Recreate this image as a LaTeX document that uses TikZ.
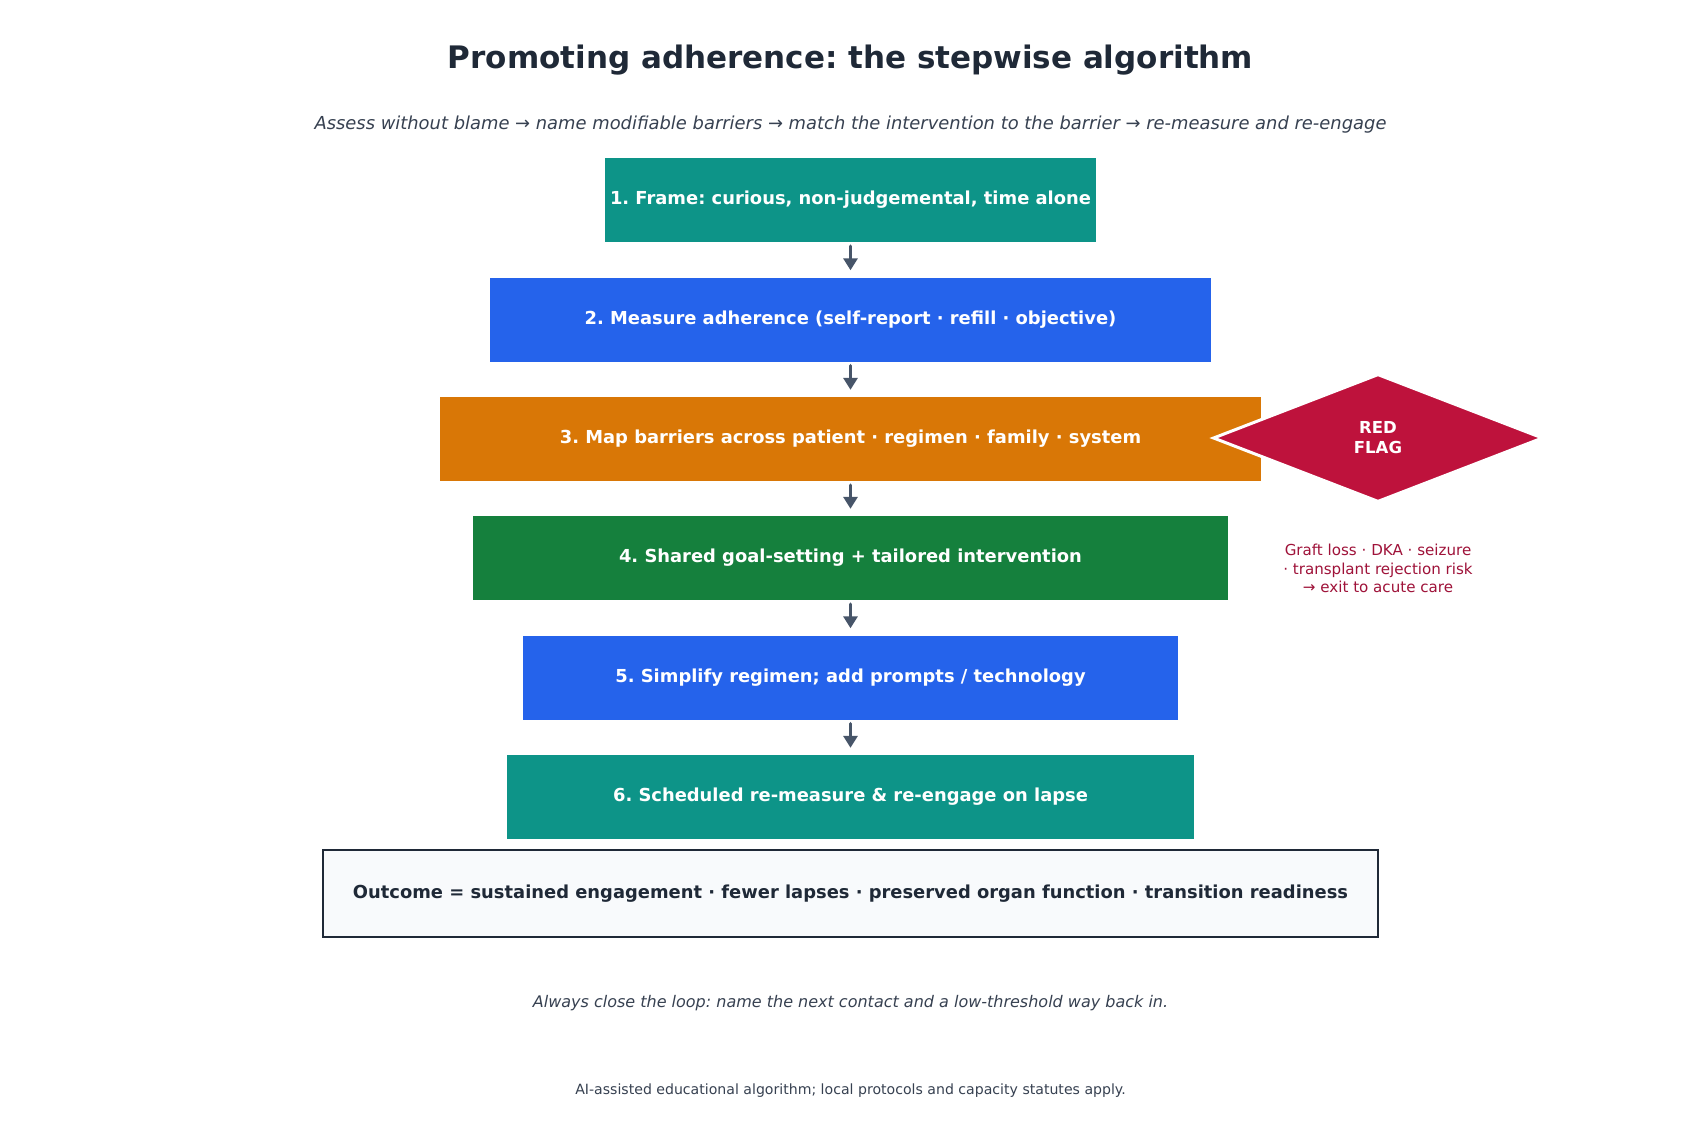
\documentclass[tikz,border=0pt]{standalone}
\usepackage{fontspec}
\setmainfont{DejaVu Sans}
\usetikzlibrary{shapes.geometric,arrows.meta}
\definecolor{cteal}{HTML}{0D9488}
\definecolor{cblue}{HTML}{2563EB}
\definecolor{corange}{HTML}{D97706}
\definecolor{cgreen}{HTML}{15803D}
\definecolor{cred}{HTML}{BE123C}
\definecolor{credtxt}{HTML}{9F1239}
\definecolor{cdark}{HTML}{1F2937}
\definecolor{cgrey}{HTML}{374151}
\definecolor{carrow}{HTML}{475569}
\definecolor{cout}{HTML}{F8FAFC}
\tikzset{
  stepbox/.style={draw=none, inner sep=0pt, text=white, font=\fontsize{17.9}{21}\selectfont\bfseries},
  arr/.style={draw=carrow, line width=3.5pt, line cap=round, -{Triangle[length=12pt,width=14pt]}, shorten <=4pt, shorten >=7pt},
}
\begin{document}
\frenchspacing
\begin{tikzpicture}[x=1pt,y=-1pt]
\useasboundingbox[fill=white] (0,0) rectangle (1701,1138);
\node[font=\fontsize{31}{36}\selectfont\bfseries, text=cdark] (title) at (850.5,60.5) {Promoting adherence: the stepwise algorithm};
\node[font=\fontsize{17.9}{21}\selectfont\itshape, text=cgrey] (sub) at (850.5,124.5) {Assess without blame → name modifiable barriers → match the intervention to the barrier → re-measure and re-engage};

\node[stepbox, fill=cteal, minimum width=491pt, minimum height=84pt] (b1) at (850.5,200) {1. Frame: curious, non-judgemental, time alone};
\node[stepbox, fill=cblue, minimum width=721pt, minimum height=84pt] (b2) at (850.5,319.5) {2. Measure adherence (self-report · refill · objective)};
\node[stepbox, fill=corange, minimum width=821pt, minimum height=84pt] (b3) at (850.5,439) {3. Map barriers across patient · regimen · family · system};
\node[stepbox, fill=cgreen, minimum width=755pt, minimum height=84pt] (b4) at (850.5,558) {4. Shared goal-setting + tailored intervention};
\node[stepbox, fill=cblue, minimum width=655pt, minimum height=84pt] (b5) at (850.5,677.5) {5. Simplify regimen; add prompts / technology};
\node[stepbox, fill=cteal, minimum width=687pt, minimum height=84pt] (b6) at (850.5,797) {6. Scheduled re-measure \& re-engage on lapse};

\node[draw=cdark, line width=2pt, fill=cout, minimum width=1055pt, minimum height=87pt, inner sep=0pt, text=cdark, font=\fontsize{17.9}{21}\selectfont\bfseries] (out) at (850.5,893.5) {Outcome = sustained engagement · fewer lapses · preserved organ function · transition readiness};

\draw[arr] (b1.south) -- (b2.north);
\draw[arr] (b2.south) -- (b3.north);
\draw[arr] (b3.south) -- (b4.north);
\draw[arr] (b4.south) -- (b5.north);
\draw[arr] (b5.south) -- (b6.north);

\node[diamond, fill=cred, draw=white, line width=3pt, minimum width=330pt, minimum height=128pt, inner sep=0pt, aspect=2.58, text=white, align=center, font=\fontsize{16.5}{20}\selectfont\bfseries] (flag) at (1378,438) {RED\\FLAG};
\node[text=credtxt, align=center, font=\fontsize{15.1}{18.5}\selectfont] (flagtxt) at (1378,568.5) {Graft loss · DKA · seizure\\· transplant rejection risk\\→ exit to acute care};

\node[font=\fontsize{16}{19}\selectfont\itshape, text=cgrey] (close) at (850.5,1003) {Always close the loop: name the next contact and a low-threshold way back in.};
\node[font=\fontsize{14.1}{17}\selectfont, text=cgrey] (foot) at (850.5,1091) {AI-assisted educational algorithm; local protocols and capacity statutes apply.};
\end{tikzpicture}
\end{document}
